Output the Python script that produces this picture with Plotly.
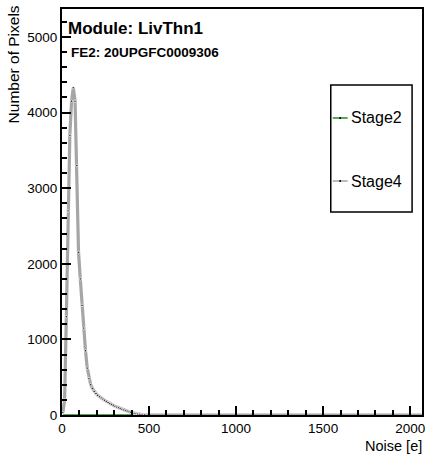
import plotly.graph_objects as go

# ---- data ----
noise_centers = list(range(5, 2075, 10))  # bin centres [e], 10 e bins
stage4_read = [30, 200, 1300, 2700, 3700, 4150, 4330, 4150, 3300, 2150,
               1800, 1450, 1150, 850, 620, 480, 400, 350, 310, 285,
               260, 240, 225, 210, 195, 180, 165, 150, 140, 128,
               115, 105, 95, 85, 75, 66, 58, 50, 42, 35,
               28, 22, 16, 11, 7, 4, 2, 1]
stage4_counts = stage4_read + [0] * (len(noise_centers) - len(stage4_read))
stage2_counts = [0] * len(noise_centers)

series_names = ["Stage2", "Stage4"]
x_ticks = [0, 500, 1000, 1500, 2000]
y_ticks = [0, 1000, 2000, 3000, 4000, 5000]

# ---- geometry helpers (plot area in pixels) ----
L, R, T, B = 62, 425, 9, 415
W, H = 431, 458
def px(x):
    return (x - L) / (R - L)
def py(y):
    return (B - y) / (B - T)

FONT = "Liberation Sans, Arial, sans-serif"
GREEN = "#1e8c1e"
GRAY = "#a6a6a6"

fig = go.Figure()
fig.add_trace(go.Scatter(x=noise_centers, y=stage2_counts, mode="lines",
                         line=dict(color=GREEN, width=1.5), name=series_names[0],
                         showlegend=False, hoverinfo="skip"))
fig.add_trace(go.Scatter(x=noise_centers, y=stage4_counts, mode="lines",
                         line=dict(color=GRAY, width=3.2), name=series_names[1],
                         showlegend=False))
fig.add_trace(go.Scatter(x=noise_centers, y=stage4_counts, mode="markers",
                         marker=dict(color="black", size=[2.5 if c > 0 else 0 for c in stage4_counts]),
                         showlegend=False, hoverinfo="skip"))

axis_common = dict(showgrid=False, zeroline=False, showline=True, linecolor="black",
                   linewidth=2, mirror=True, ticks="inside", tickcolor="black",
                   tickwidth=1.5, ticklen=9, tickfont=dict(size=13.5, color="black", family=FONT))

fig.update_xaxes(range=[0, 2068], tickvals=x_ticks, ticktext=[str(v) for v in x_ticks],
                 minor=dict(dtick=100, tick0=0, ticks="inside", ticklen=5, tickwidth=1.5,
                            tickcolor="black", showgrid=False),
                 **axis_common)
fig.update_yaxes(range=[0, 5370], tickvals=y_ticks, ticktext=[str(v) for v in y_ticks],
                 minor=dict(dtick=200, tick0=0, ticks="inside", ticklen=5, tickwidth=1.5,
                            tickcolor="black", showgrid=False),
                 **axis_common)

shapes = []
annotations = []
# legend box
shapes.append(dict(type="rect", xref="paper", yref="paper",
                   x0=px(333), x1=px(415), y0=py(212), y1=py(85),
                   line=dict(color="black", width=1.5), fillcolor="white"))
for i, (name, col) in enumerate(zip(series_names, [GREEN, GRAY])):
    yy = [118, 181][i]
    shapes.append(dict(type="line", xref="paper", yref="paper",
                       x0=px(335), x1=px(350), y0=py(yy), y1=py(yy),
                       line=dict(color=col, width=1.5)))
    shapes.append(dict(type="circle", xref="paper", yref="paper",
                       x0=px(341.5), x1=px(343.5), y0=py(yy + 1), y1=py(yy - 1),
                       fillcolor="black", line=dict(width=0)))
    annotations.append(dict(text=name, xref="paper", yref="paper", x=px(351), y=py(yy),
                            xanchor="left", yanchor="middle", showarrow=False,
                            font=dict(size=16, family=FONT, color="black")))

annotations += [
    dict(text="<b>Module: LivThn1</b>", xref="paper", yref="paper", x=px(66), y=py(28),
         xanchor="left", yanchor="middle", showarrow=False,
         font=dict(size=17, family=FONT, color="black")),
    dict(text="<b>FE2: 20UPGFC0009306</b>", xref="paper", yref="paper", x=px(69), y=py(52),
         xanchor="left", yanchor="middle", showarrow=False,
         font=dict(size=13.5, family=FONT, color="black")),
    dict(text="Number of Pixels", xref="paper", yref="paper", x=px(14), y=py(3),
         xanchor="center", yanchor="top", textangle=-90, showarrow=False,
         font=dict(size=15.5, family=FONT, color="black")),
    dict(text="Noise [e]", xref="paper", yref="paper", x=px(427), y=py(446),
         xanchor="right", yanchor="middle", showarrow=False,
         font=dict(size=14.5, family=FONT, color="black")),
]

fig.update_layout(width=W, height=H, margin=dict(l=L, r=W - R, t=T, b=H - B),
                  paper_bgcolor="white", plot_bgcolor="white", showlegend=False,
                  font=dict(family=FONT), shapes=shapes, annotations=annotations)

fig.write_html("out.html", config={"displayModeBar": False},
               post_script="document.body.style.margin='0';document.body.style.overflow='hidden';")
